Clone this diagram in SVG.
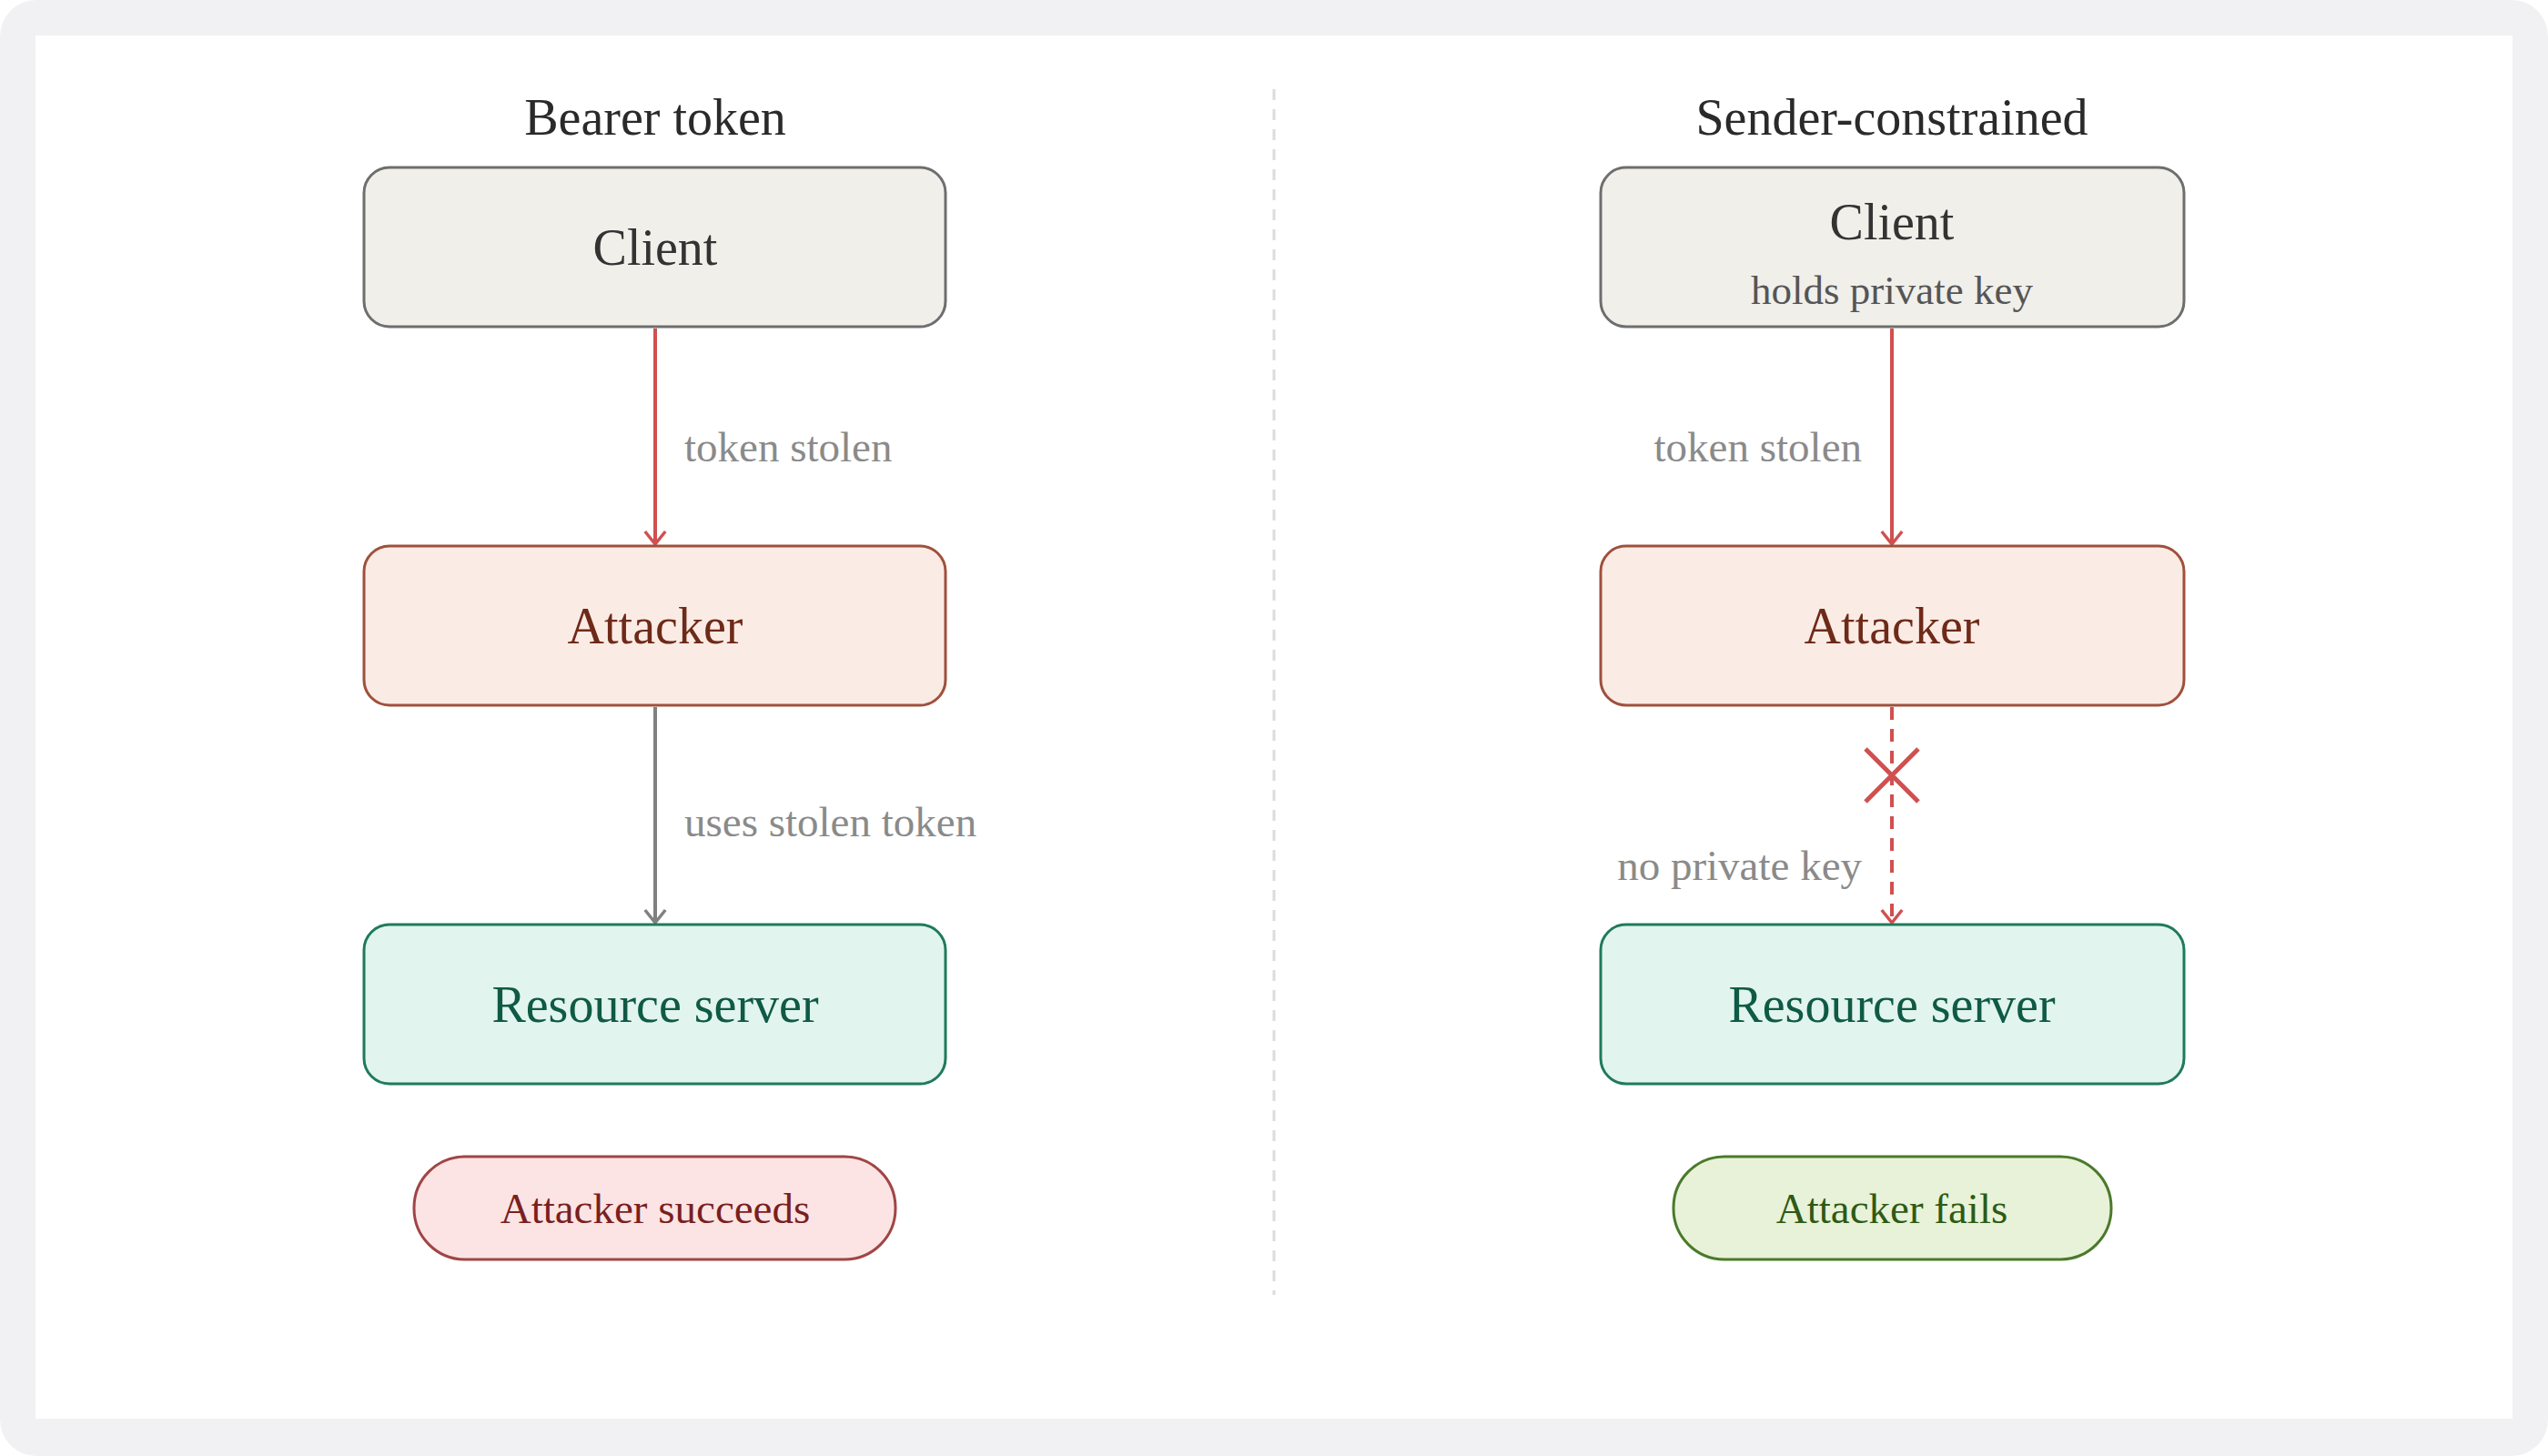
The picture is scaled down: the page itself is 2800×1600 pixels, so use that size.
<svg xmlns="http://www.w3.org/2000/svg" width="2800" height="1600" viewBox="0 0 2800 1600">
<defs>
<style>
text{font-family:"Liberation Serif",serif;text-anchor:middle}
.t{font-size:56px;fill:#2a2a2a}
.n{font-size:56px}
.l{font-size:47px;fill:#8a8a8a}
.p{font-size:47px}
.box{stroke-width:3}
</style>
<marker id="ar" viewBox="0 0 20 20" refX="18" refY="10" markerWidth="28" markerHeight="28" markerUnits="userSpaceOnUse" orient="auto"><path d="M8 2 L18 10 L8 18" fill="none" stroke="#d05050" stroke-width="2.5"/></marker>
<marker id="ag" viewBox="0 0 20 20" refX="18" refY="10" markerWidth="28" markerHeight="28" markerUnits="userSpaceOnUse" orient="auto"><path d="M8 2 L18 10 L8 18" fill="none" stroke="#808080" stroke-width="2.5"/></marker>
</defs>
<rect width="2800" height="1600" rx="40" fill="#f1f1f3"/>
<rect x="39" y="39" width="2722" height="1520" fill="#fff"/>
<line x1="1400" y1="98" x2="1400" y2="1423" stroke="#dcdcdc" stroke-width="3" stroke-dasharray="12 10"/>
<text class="t" x="720" y="148">Bearer token</text>
<text class="t" x="2079" y="148">Sender-constrained</text>
<g id="connectors">
<line x1="720" y1="361" x2="720" y2="598" stroke="#d05050" stroke-width="4" marker-end="url(#ar)"/>
<text class="l" x="752" y="507" style="text-anchor:start">token stolen</text>
<line x1="720" y1="777" x2="720" y2="1014" stroke="#808080" stroke-width="4" marker-end="url(#ag)"/>
<text class="l" x="752" y="919" style="text-anchor:start">uses stolen token</text>
<line x1="2079" y1="361" x2="2079" y2="598" stroke="#d05050" stroke-width="4" marker-end="url(#ar)"/>
<text class="l" x="2046" y="507" style="text-anchor:end">token stolen</text>
<line x1="2079" y1="777" x2="2079" y2="1014" stroke="#d05050" stroke-width="4" stroke-dasharray="14 10" marker-end="url(#ar)"/>
<path d="M2050 823 L2108 881 M2108 823 L2050 881" stroke="#d05050" stroke-width="5"/>
<text class="l" x="2046" y="967" style="text-anchor:end">no private key</text>
</g>
<g id="client-left"><rect class="box" x="400" y="184" width="639" height="175" rx="28" fill="#f0efea" stroke="#6e6e6e"/><text class="n" x="720" y="291" fill="#333">Client</text></g>
<g id="attacker-left"><rect class="box" x="400" y="600" width="639" height="175" rx="28" fill="#fbebe5" stroke="#a0503c"/><text class="n" x="720" y="707" fill="#6e2a18">Attacker</text></g>
<g id="resource-left"><rect class="box" x="400" y="1016" width="639" height="175" rx="28" fill="#e1f4ee" stroke="#1f7a5c"/><text class="n" x="720" y="1123" fill="#0f5a44">Resource server</text></g>
<g id="result-left"><rect class="box" x="455" y="1271" width="529" height="113" rx="56" fill="#fce4e4" stroke="#a04545"/><text class="p" x="720" y="1344" fill="#7a1f1f">Attacker succeeds</text></g>
<g id="client-right"><rect class="box" x="1759" y="184" width="641" height="175" rx="28" fill="#f0efea" stroke="#6e6e6e"/><text class="n" x="2079" y="263" fill="#333">Client</text><text x="2079" y="334" font-size="45" fill="#555">holds private key</text></g>
<g id="attacker-right"><rect class="box" x="1759" y="600" width="641" height="175" rx="28" fill="#fbebe5" stroke="#a0503c"/><text class="n" x="2079" y="707" fill="#6e2a18">Attacker</text></g>
<g id="resource-right"><rect class="box" x="1759" y="1016" width="641" height="175" rx="28" fill="#e1f4ee" stroke="#1f7a5c"/><text class="n" x="2079" y="1123" fill="#0f5a44">Resource server</text></g>
<g id="result-right"><rect class="box" x="1839" y="1271" width="481" height="113" rx="56" fill="#e8f2d8" stroke="#4a7a2a"/><text class="p" x="2079" y="1344" fill="#2e5a14">Attacker fails</text></g>
</svg>
